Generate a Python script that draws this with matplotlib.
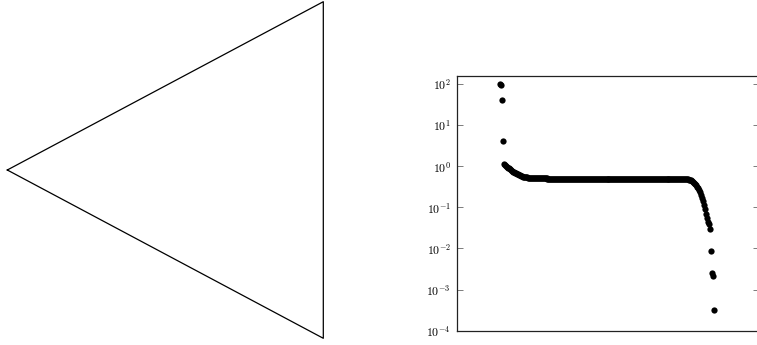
import matplotlib
matplotlib.use("Agg")
import matplotlib.pyplot as plt
from matplotlib.ticker import LogLocator, FuncFormatter, NullLocator
import numpy as np

# triangle outline (domain sketch)
tri_x = [0.0, 1.0, 1.0, 0.0]
tri_y = [0.0, 0.5, -0.5, 0.0]

# spectrum values, sorted descending
head = [97.0, 94.0, 41.0, 4.1]
knee = [1.10, 1.05, 1.00, 0.96, 0.92, 0.88, 0.84, 0.80, 0.77, 0.74,
        0.71, 0.69, 0.67, 0.65, 0.63, 0.61, 0.595, 0.58, 0.57, 0.56,
        0.55, 0.545, 0.54, 0.535, 0.53, 0.525, 0.52, 0.517, 0.514, 0.512]
plateau = [0.510, 0.509, 0.508, 0.507, 0.506, 0.505, 0.505, 0.504, 0.504, 0.503,
           0.503, 0.502, 0.502, 0.502, 0.501, 0.501, 0.501, 0.501, 0.501, 0.501,
           0.500, 0.500, 0.500, 0.500, 0.500, 0.500, 0.500, 0.500, 0.500, 0.500,
           0.500, 0.500, 0.500, 0.500, 0.500, 0.500, 0.500, 0.500, 0.500, 0.500,
           0.500, 0.500, 0.500, 0.500, 0.500, 0.500, 0.500, 0.500, 0.500, 0.500,
           0.500, 0.500, 0.500, 0.500, 0.500, 0.500, 0.500, 0.500, 0.500, 0.500,
           0.500, 0.500, 0.500, 0.500, 0.500, 0.500, 0.500, 0.500, 0.500, 0.500,
           0.500, 0.500, 0.500, 0.500, 0.500, 0.500, 0.500, 0.500, 0.500, 0.500,
           0.500, 0.500, 0.500, 0.500, 0.500, 0.500, 0.500, 0.500, 0.500, 0.500,
           0.500, 0.500, 0.500, 0.500, 0.500, 0.500, 0.500, 0.500, 0.500, 0.500,
           0.500, 0.500, 0.500, 0.500, 0.500, 0.500, 0.500, 0.500, 0.500, 0.500,
           0.500, 0.500, 0.500, 0.500, 0.500, 0.500, 0.500, 0.500, 0.500, 0.500,
           0.499, 0.499, 0.499, 0.499, 0.499, 0.499, 0.499, 0.499, 0.499, 0.499,
           0.498, 0.498, 0.498, 0.498, 0.498, 0.498, 0.498, 0.498, 0.497, 0.497,
           0.497, 0.497, 0.496, 0.496, 0.496, 0.495, 0.495, 0.494, 0.494, 0.493,
           0.492, 0.491, 0.490, 0.489, 0.488, 0.486]
tail = [0.484, 0.48, 0.47, 0.46, 0.45, 0.43, 0.41, 0.39, 0.36, 0.34, 0.32,
        0.29, 0.26, 0.23, 0.20, 0.17, 0.14, 0.115, 0.09, 0.07, 0.055,
        0.045, 0.040, 0.029, 0.0085, 0.0025, 0.0021, 0.00032]
values = head + knee + plateau + tail

plt.rcParams['mathtext.fontset'] = 'cm'
plt.rcParams['font.family'] = 'serif'

fig = plt.figure(figsize=(7.57, 3.45), dpi=100)

# left: triangle
ax0 = fig.add_axes([7.3 / 757, 6.7 / 345, 316 / 757, 336.6 / 345])
ax0.plot(tri_x, tri_y, color='black', lw=0.9, clip_on=False)
ax0.set_xlim(0, 1)
ax0.set_ylim(-0.5, 0.5)
ax0.axis('off')

# right: spectrum on log scale
ax = fig.add_axes([456.5 / 757, 14.3 / 345, 302.5 / 757, 255 / 345])
idx = np.arange(len(values))
ax.plot(idx, values, 'o', color='black', ms=4.5, mec='black', mew=0)
ax.set_yscale('log')
ax.set_ylim(1e-4, 10 ** 2.2)
ax.set_xlim(-44.5, 263)
ax.yaxis.set_major_locator(LogLocator(base=10, numticks=20))
ax.yaxis.set_minor_locator(NullLocator())
ax.yaxis.set_major_formatter(FuncFormatter(lambda v, _: r'$10^{%d}$' % round(np.log10(v))))
ax.xaxis.set_major_locator(NullLocator())
ax.xaxis.set_minor_locator(NullLocator())
ax.tick_params(axis='y', which='major', direction='in', left=True, right=True,
               length=4, width=0.6, color='#666666', labelsize=8.5, pad=4)
for s in ax.spines.values():
    s.set_linewidth(0.9)
    s.set_color('#222222')

fig.savefig('out.png', dpi=100)
